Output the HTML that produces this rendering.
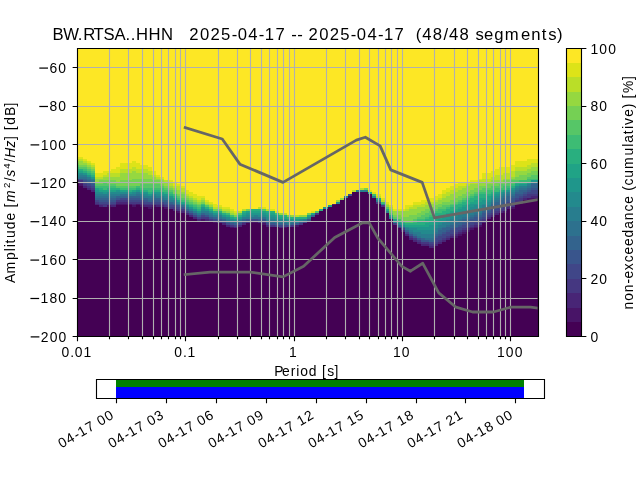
<!DOCTYPE html><html><head><meta charset="utf-8"><style>html,body{margin:0;padding:0;background:#fff;}svg{display:block;will-change:transform}</style></head><body>
<svg width="640" height="480" viewBox="0 0 640 480" font-family='"Liberation Sans", sans-serif'>
<rect width="640" height="480" fill="#fff"/>
<g shape-rendering="crispEdges">
<rect x="76.8" y="48.0" width="460.8" height="288.0" fill="#440154"/>
<path fill="#481467" d="M76.80 48.0V182.40H78.84V186.24H82.92V188.16H86.99V190.08H91.07V192.00H95.15V205.44H99.22V207.36H103.30V207.36H107.38V207.36H111.46V207.36H115.53V205.44H119.61V205.44H123.69V205.44H127.76V205.44H131.84V207.36H135.92V205.44H140.00V207.36H144.07V207.36H148.15V209.28H152.23V207.36H156.30V207.36H160.38V207.36H164.46V209.28H168.53V209.28H172.61V211.20H176.69V213.12H180.77V213.12H184.84V215.04H188.92V216.96H193.00V218.88H197.07V220.80H201.15V220.80H205.23V220.80H209.31V220.80H213.38V222.72H217.46V222.72H221.54V224.64H225.61V226.56H229.69V228.48H233.77V228.48H237.85V226.56H241.92V224.64H246.00V222.72H250.08V222.72H254.15V222.72H258.23V222.72H262.31V224.64H266.39V226.56H270.46V226.56H274.54V226.56H278.62V228.48H282.69V228.48H286.77V226.56H290.85V226.56H294.93V226.56H299.00V224.64H303.08V222.72H307.16V220.80H311.23V216.96H315.31V215.04H319.39V211.20H323.46V209.28H327.54V207.36H331.62V205.44H335.70V203.52H339.77V199.68H343.85V197.76H347.93V195.84H352.00V192.00H356.08V192.00H360.16V192.00H364.24V192.00H368.31V193.92H372.39V197.76H376.47V203.52H380.54V207.36H384.62V213.12H388.70V218.88H392.78V224.64H396.85V228.48H400.93V232.32H405.01V236.16H409.08V240.00H413.16V241.92H417.24V243.84H421.32V245.76H425.39V245.76H429.47V247.68H433.55V245.76H437.62V243.84H441.70V241.92H445.78V240.00H449.86V238.08H453.93V238.08H458.01V236.16H462.09V234.24H466.16V232.32H470.24V230.40H474.32V228.48H478.39V226.56H482.47V222.72H486.55V218.88H490.63V216.96H494.70V215.04H498.78V213.12H502.86V213.12H506.93V209.28H511.01V209.28H515.09V203.52H519.17V203.52H523.24V199.68H527.32V199.68H531.40V199.68H535.47V199.68H537.60V48.0Z"/>
<path fill="#482576" d="M76.80 48.0V182.40H78.84V184.32H82.92V188.16H86.99V190.08H91.07V192.00H95.15V205.44H99.22V207.36H103.30V207.36H107.38V205.44H111.46V207.36H115.53V203.52H119.61V203.52H123.69V203.52H127.76V203.52H131.84V205.44H135.92V203.52H140.00V205.44H144.07V207.36H148.15V207.36H152.23V205.44H156.30V207.36H160.38V207.36H164.46V207.36H168.53V209.28H172.61V211.20H176.69V211.20H180.77V213.12H184.84V215.04H188.92V216.96H193.00V218.88H197.07V220.80H201.15V218.88H205.23V220.80H209.31V220.80H213.38V220.80H217.46V222.72H221.54V224.64H225.61V226.56H229.69V226.56H233.77V228.48H237.85V226.56H241.92V224.64H246.00V222.72H250.08V220.80H254.15V220.80H258.23V222.72H262.31V222.72H266.39V226.56H270.46V226.56H274.54V226.56H278.62V228.48H282.69V226.56H286.77V226.56H290.85V226.56H294.93V224.64H299.00V224.64H303.08V222.72H307.16V220.80H311.23V216.96H315.31V215.04H319.39V211.20H323.46V209.28H327.54V207.36H331.62V205.44H335.70V203.52H339.77V199.68H343.85V197.76H347.93V195.84H352.00V192.00H356.08V192.00H360.16V192.00H364.24V192.00H368.31V193.92H372.39V197.76H376.47V203.52H380.54V207.36H384.62V213.12H388.70V218.88H392.78V224.64H396.85V228.48H400.93V232.32H405.01V236.16H409.08V240.00H413.16V241.92H417.24V243.84H421.32V245.76H425.39V245.76H429.47V247.68H433.55V245.76H437.62V243.84H441.70V241.92H445.78V240.00H449.86V238.08H453.93V236.16H458.01V234.24H462.09V232.32H466.16V230.40H470.24V228.48H474.32V226.56H478.39V224.64H482.47V222.72H486.55V218.88H490.63V216.96H494.70V215.04H498.78V213.12H502.86V211.20H506.93V209.28H511.01V207.36H515.09V203.52H519.17V201.60H523.24V199.68H527.32V197.76H531.40V197.76H535.47V197.76H537.60V48.0Z"/>
<path fill="#453781" d="M76.80 48.0V180.48H78.84V182.40H82.92V186.24H86.99V188.16H91.07V190.08H95.15V203.52H99.22V205.44H103.30V207.36H107.38V205.44H111.46V205.44H115.53V201.60H119.61V201.60H123.69V201.60H127.76V203.52H131.84V203.52H135.92V203.52H140.00V203.52H144.07V205.44H148.15V205.44H152.23V205.44H156.30V205.44H160.38V205.44H164.46V207.36H168.53V209.28H172.61V209.28H176.69V211.20H180.77V211.20H184.84V213.12H188.92V215.04H193.00V216.96H197.07V218.88H201.15V218.88H205.23V218.88H209.31V220.80H213.38V220.80H217.46V222.72H221.54V222.72H225.61V224.64H229.69V226.56H233.77V226.56H237.85V224.64H241.92V222.72H246.00V222.72H250.08V220.80H254.15V220.80H258.23V222.72H262.31V222.72H266.39V224.64H270.46V226.56H274.54V226.56H278.62V226.56H282.69V226.56H286.77V226.56H290.85V226.56H294.93V224.64H299.00V224.64H303.08V222.72H307.16V220.80H311.23V216.96H315.31V215.04H319.39V211.20H323.46V209.28H327.54V207.36H331.62V203.52H335.70V203.52H339.77V199.68H343.85V197.76H347.93V195.84H352.00V192.00H356.08V192.00H360.16V192.00H364.24V192.00H368.31V193.92H372.39V197.76H376.47V203.52H380.54V207.36H384.62V213.12H388.70V218.88H392.78V224.64H396.85V228.48H400.93V230.40H405.01V234.24H409.08V238.08H413.16V240.00H417.24V241.92H421.32V243.84H425.39V243.84H429.47V245.76H433.55V243.84H437.62V241.92H441.70V240.00H445.78V238.08H449.86V236.16H453.93V234.24H458.01V232.32H462.09V230.40H466.16V228.48H470.24V226.56H474.32V224.64H478.39V224.64H482.47V220.80H486.55V216.96H490.63V215.04H494.70V213.12H498.78V211.20H502.86V211.20H506.93V207.36H511.01V207.36H515.09V201.60H519.17V201.60H523.24V197.76H527.32V197.76H531.40V195.84H535.47V195.84H537.60V48.0Z"/>
<path fill="#404688" d="M76.80 48.0V180.48H78.84V180.48H82.92V184.32H86.99V186.24H91.07V188.16H95.15V201.60H99.22V203.52H103.30V203.52H107.38V203.52H111.46V203.52H115.53V199.68H119.61V199.68H123.69V199.68H127.76V201.60H131.84V201.60H135.92V201.60H140.00V201.60H144.07V203.52H148.15V203.52H152.23V203.52H156.30V203.52H160.38V203.52H164.46V205.44H168.53V207.36H172.61V207.36H176.69V209.28H180.77V209.28H184.84V213.12H188.92V215.04H193.00V216.96H197.07V218.88H201.15V216.96H205.23V216.96H209.31V218.88H213.38V220.80H217.46V220.80H221.54V222.72H225.61V224.64H229.69V224.64H233.77V226.56H237.85V224.64H241.92V222.72H246.00V220.80H250.08V220.80H254.15V220.80H258.23V220.80H262.31V220.80H266.39V224.64H270.46V224.64H274.54V226.56H278.62V226.56H282.69V226.56H286.77V226.56H290.85V224.64H294.93V224.64H299.00V222.72H303.08V222.72H307.16V220.80H311.23V216.96H315.31V213.12H319.39V211.20H323.46V209.28H327.54V207.36H331.62V203.52H335.70V203.52H339.77V199.68H343.85V197.76H347.93V195.84H352.00V192.00H356.08V192.00H360.16V192.00H364.24V192.00H368.31V193.92H372.39V197.76H376.47V201.60H380.54V205.44H384.62V213.12H388.70V218.88H392.78V222.72H396.85V226.56H400.93V230.40H405.01V234.24H409.08V236.16H413.16V238.08H417.24V240.00H421.32V241.92H425.39V241.92H429.47V243.84H433.55V241.92H437.62V240.00H441.70V238.08H445.78V236.16H449.86V234.24H453.93V232.32H458.01V230.40H462.09V228.48H466.16V226.56H470.24V224.64H474.32V222.72H478.39V220.80H482.47V218.88H486.55V215.04H490.63V213.12H494.70V211.20H498.78V209.28H502.86V207.36H506.93V205.44H511.01V203.52H515.09V199.68H519.17V197.76H523.24V195.84H527.32V193.92H531.40V193.92H535.47V193.92H537.60V48.0Z"/>
<path fill="#39558c" d="M76.80 48.0V178.56H78.84V180.48H82.92V182.40H86.99V184.32H91.07V186.24H95.15V199.68H99.22V201.60H103.30V201.60H107.38V201.60H111.46V201.60H115.53V199.68H119.61V197.76H123.69V197.76H127.76V199.68H131.84V199.68H135.92V199.68H140.00V199.68H144.07V201.60H148.15V201.60H152.23V201.60H156.30V201.60H160.38V201.60H164.46V203.52H168.53V205.44H172.61V205.44H176.69V207.36H180.77V209.28H184.84V211.20H188.92V213.12H193.00V215.04H197.07V216.96H201.15V215.04H205.23V216.96H209.31V218.88H213.38V218.88H217.46V220.80H221.54V220.80H225.61V222.72H229.69V224.64H233.77V224.64H237.85V222.72H241.92V220.80H246.00V220.80H250.08V218.88H254.15V218.88H258.23V220.80H262.31V220.80H266.39V222.72H270.46V224.64H274.54V224.64H278.62V224.64H282.69V224.64H286.77V224.64H290.85V224.64H294.93V224.64H299.00V222.72H303.08V220.80H307.16V220.80H311.23V216.96H315.31V213.12H319.39V211.20H323.46V209.28H327.54V207.36H331.62V203.52H335.70V203.52H339.77V199.68H343.85V197.76H347.93V195.84H352.00V192.00H356.08V192.00H360.16V192.00H364.24V192.00H368.31V193.92H372.39V197.76H376.47V201.60H380.54V205.44H384.62V213.12H388.70V218.88H392.78V222.72H396.85V226.56H400.93V228.48H405.01V232.32H409.08V236.16H413.16V238.08H417.24V240.00H421.32V241.92H425.39V241.92H429.47V241.92H433.55V238.08H437.62V236.16H441.70V234.24H445.78V232.32H449.86V230.40H453.93V228.48H458.01V226.56H462.09V224.64H466.16V222.72H470.24V220.80H474.32V220.80H478.39V218.88H482.47V216.96H486.55V213.12H490.63V209.28H494.70V207.36H498.78V205.44H502.86V203.52H506.93V201.60H511.01V201.60H515.09V197.76H519.17V195.84H523.24V193.92H527.32V192.00H531.40V190.08H535.47V190.08H537.60V48.0Z"/>
<path fill="#33638d" d="M76.80 48.0V178.56H78.84V178.56H82.92V180.48H86.99V182.40H91.07V184.32H95.15V199.68H99.22V199.68H103.30V199.68H107.38V199.68H111.46V199.68H115.53V197.76H119.61V197.76H123.69V197.76H127.76V197.76H131.84V197.76H135.92V197.76H140.00V199.68H144.07V199.68H148.15V201.60H152.23V199.68H156.30V199.68H160.38V201.60H164.46V201.60H168.53V203.52H172.61V205.44H176.69V205.44H180.77V207.36H184.84V211.20H188.92V213.12H193.00V215.04H197.07V216.96H201.15V215.04H205.23V215.04H209.31V216.96H213.38V218.88H217.46V218.88H221.54V220.80H225.61V222.72H229.69V222.72H233.77V224.64H237.85V222.72H241.92V220.80H246.00V218.88H250.08V218.88H254.15V218.88H258.23V218.88H262.31V218.88H266.39V222.72H270.46V222.72H274.54V224.64H278.62V224.64H282.69V224.64H286.77V224.64H290.85V224.64H294.93V222.72H299.00V222.72H303.08V220.80H307.16V218.88H311.23V216.96H315.31V213.12H319.39V211.20H323.46V209.28H327.54V207.36H331.62V203.52H335.70V203.52H339.77V199.68H343.85V197.76H347.93V193.92H352.00V192.00H356.08V192.00H360.16V192.00H364.24V192.00H368.31V193.92H372.39V197.76H376.47V201.60H380.54V205.44H384.62V213.12H388.70V218.88H392.78V222.72H396.85V226.56H400.93V228.48H405.01V232.32H409.08V234.24H413.16V236.16H417.24V238.08H421.32V240.00H425.39V240.00H429.47V241.92H433.55V236.16H437.62V234.24H441.70V232.32H445.78V230.40H449.86V228.48H453.93V226.56H458.01V224.64H462.09V222.72H466.16V220.80H470.24V218.88H474.32V216.96H478.39V216.96H482.47V213.12H486.55V211.20H490.63V207.36H494.70V205.44H498.78V203.52H502.86V201.60H506.93V199.68H511.01V197.76H515.09V193.92H519.17V193.92H523.24V192.00H527.32V190.08H531.40V188.16H535.47V188.16H537.60V48.0Z"/>
<path fill="#2d718e" d="M76.80 48.0V178.56H78.84V178.56H82.92V178.56H86.99V180.48H91.07V182.40H95.15V197.76H99.22V197.76H103.30V197.76H107.38V197.76H111.46V197.76H115.53V195.84H119.61V195.84H123.69V195.84H127.76V195.84H131.84V195.84H135.92V195.84H140.00V197.76H144.07V197.76H148.15V199.68H152.23V197.76H156.30V197.76H160.38V199.68H164.46V199.68H168.53V201.60H172.61V203.52H176.69V205.44H180.77V207.36H184.84V209.28H188.92V211.20H193.00V213.12H197.07V215.04H201.15V213.12H205.23V215.04H209.31V216.96H213.38V216.96H217.46V218.88H221.54V218.88H225.61V220.80H229.69V222.72H233.77V222.72H237.85V220.80H241.92V218.88H246.00V218.88H250.08V218.88H254.15V218.88H258.23V218.88H262.31V218.88H266.39V220.80H270.46V222.72H274.54V222.72H278.62V222.72H282.69V222.72H286.77V224.64H290.85V222.72H294.93V222.72H299.00V220.80H303.08V220.80H307.16V218.88H311.23V215.04H315.31V213.12H319.39V211.20H323.46V209.28H327.54V207.36H331.62V203.52H335.70V203.52H339.77V199.68H343.85V197.76H347.93V193.92H352.00V192.00H356.08V192.00H360.16V192.00H364.24V192.00H368.31V193.92H372.39V197.76H376.47V201.60H380.54V205.44H384.62V213.12H388.70V218.88H392.78V222.72H396.85V224.64H400.93V226.56H405.01V230.40H409.08V234.24H413.16V236.16H417.24V238.08H421.32V238.08H425.39V240.00H429.47V240.00H433.55V234.24H437.62V230.40H441.70V228.48H445.78V226.56H449.86V224.64H453.93V222.72H458.01V220.80H462.09V218.88H466.16V218.88H470.24V216.96H474.32V215.04H478.39V215.04H482.47V211.20H486.55V209.28H490.63V203.52H494.70V201.60H498.78V199.68H502.86V197.76H506.93V195.84H511.01V195.84H515.09V192.00H519.17V190.08H523.24V190.08H527.32V188.16H531.40V184.32H535.47V184.32H537.60V48.0Z"/>
<path fill="#287d8e" d="M76.80 48.0V178.56H78.84V176.64H82.92V176.64H86.99V178.56H91.07V180.48H95.15V195.84H99.22V195.84H103.30V195.84H107.38V195.84H111.46V195.84H115.53V195.84H119.61V193.92H123.69V193.92H127.76V195.84H131.84V195.84H135.92V193.92H140.00V195.84H144.07V197.76H148.15V197.76H152.23V195.84H156.30V197.76H160.38V197.76H164.46V199.68H168.53V201.60H172.61V201.60H176.69V203.52H180.77V205.44H184.84V209.28H188.92V211.20H193.00V213.12H197.07V215.04H201.15V213.12H205.23V213.12H209.31V215.04H213.38V216.96H217.46V216.96H221.54V218.88H225.61V220.80H229.69V220.80H233.77V222.72H237.85V220.80H241.92V218.88H246.00V218.88H250.08V216.96H254.15V216.96H258.23V216.96H262.31V216.96H266.39V220.80H270.46V220.80H274.54V222.72H278.62V222.72H282.69V222.72H286.77V222.72H290.85V222.72H294.93V222.72H299.00V220.80H303.08V220.80H307.16V218.88H311.23V215.04H315.31V213.12H319.39V211.20H323.46V209.28H327.54V207.36H331.62V203.52H335.70V203.52H339.77V199.68H343.85V197.76H347.93V193.92H352.00V192.00H356.08V192.00H360.16V192.00H364.24V192.00H368.31V193.92H372.39V197.76H376.47V201.60H380.54V205.44H384.62V213.12H388.70V218.88H392.78V222.72H396.85V224.64H400.93V226.56H405.01V230.40H409.08V232.32H413.16V234.24H417.24V236.16H421.32V238.08H425.39V238.08H429.47V238.08H433.55V232.32H437.62V228.48H441.70V226.56H445.78V224.64H449.86V222.72H453.93V220.80H458.01V218.88H462.09V216.96H466.16V216.96H470.24V215.04H474.32V213.12H478.39V213.12H482.47V209.28H486.55V207.36H490.63V201.60H494.70V199.68H498.78V197.76H502.86V195.84H506.93V193.92H511.01V193.92H515.09V190.08H519.17V188.16H523.24V188.16H527.32V186.24H531.40V182.40H535.47V182.40H537.60V48.0Z"/>
<path fill="#238a8d" d="M76.80 48.0V176.64H78.84V174.72H82.92V174.72H86.99V176.64H91.07V178.56H95.15V193.92H99.22V193.92H103.30V193.92H107.38V193.92H111.46V193.92H115.53V193.92H119.61V193.92H123.69V193.92H127.76V193.92H131.84V193.92H135.92V192.00H140.00V193.92H144.07V195.84H148.15V195.84H152.23V193.92H156.30V195.84H160.38V195.84H164.46V197.76H168.53V199.68H172.61V199.68H176.69V203.52H180.77V205.44H184.84V207.36H188.92V209.28H193.00V211.20H197.07V213.12H201.15V211.20H205.23V211.20H209.31V213.12H213.38V215.04H217.46V215.04H221.54V216.96H225.61V218.88H229.69V220.80H233.77V220.80H237.85V218.88H241.92V216.96H246.00V216.96H250.08V216.96H254.15V215.04H258.23V216.96H262.31V216.96H266.39V218.88H270.46V218.88H274.54V220.80H278.62V220.80H282.69V220.80H286.77V222.72H290.85V220.80H294.93V220.80H299.00V220.80H303.08V218.88H307.16V218.88H311.23V215.04H315.31V213.12H319.39V211.20H323.46V209.28H327.54V207.36H331.62V203.52H335.70V203.52H339.77V199.68H343.85V195.84H347.93V193.92H352.00V192.00H356.08V190.08H360.16V190.08H364.24V190.08H368.31V193.92H372.39V195.84H376.47V199.68H380.54V205.44H384.62V211.20H388.70V216.96H392.78V222.72H396.85V224.64H400.93V226.56H405.01V228.48H409.08V230.40H413.16V232.32H417.24V232.32H421.32V234.24H425.39V234.24H429.47V234.24H433.55V228.48H437.62V224.64H441.70V222.72H445.78V220.80H449.86V218.88H453.93V216.96H458.01V215.04H462.09V213.12H466.16V213.12H470.24V211.20H474.32V209.28H478.39V209.28H482.47V205.44H486.55V205.44H490.63V199.68H494.70V197.76H498.78V195.84H502.86V193.92H506.93V192.00H511.01V192.00H515.09V188.16H519.17V186.24H523.24V186.24H527.32V184.32H531.40V182.40H535.47V182.40H537.60V48.0Z"/>
<path fill="#1f968b" d="M76.80 48.0V174.72H78.84V172.80H82.92V174.72H86.99V176.64H91.07V178.56H95.15V192.00H99.22V192.00H103.30V193.92H107.38V192.00H111.46V192.00H115.53V192.00H119.61V192.00H123.69V192.00H127.76V193.92H131.84V192.00H135.92V192.00H140.00V193.92H144.07V193.92H148.15V195.84H152.23V193.92H156.30V193.92H160.38V195.84H164.46V195.84H168.53V197.76H172.61V199.68H176.69V201.60H180.77V203.52H184.84V207.36H188.92V209.28H193.00V211.20H197.07V213.12H201.15V209.28H205.23V211.20H209.31V213.12H213.38V215.04H217.46V215.04H221.54V216.96H225.61V216.96H229.69V218.88H233.77V220.80H237.85V218.88H241.92V216.96H246.00V215.04H250.08V215.04H254.15V215.04H258.23V215.04H262.31V215.04H266.39V216.96H270.46V216.96H274.54V218.88H278.62V218.88H282.69V218.88H286.77V220.80H290.85V220.80H294.93V220.80H299.00V218.88H303.08V218.88H307.16V216.96H311.23V215.04H315.31V213.12H319.39V211.20H323.46V209.28H327.54V207.36H331.62V203.52H335.70V201.60H339.77V199.68H343.85V195.84H347.93V193.92H352.00V192.00H356.08V190.08H360.16V190.08H364.24V190.08H368.31V193.92H372.39V195.84H376.47V199.68H380.54V203.52H384.62V211.20H388.70V216.96H392.78V220.80H396.85V222.72H400.93V224.64H405.01V226.56H409.08V228.48H413.16V228.48H417.24V230.40H421.32V230.40H425.39V230.40H429.47V230.40H433.55V224.64H437.62V222.72H441.70V220.80H445.78V218.88H449.86V216.96H453.93V215.04H458.01V213.12H462.09V211.20H466.16V209.28H470.24V207.36H474.32V205.44H478.39V205.44H482.47V203.52H486.55V201.60H490.63V197.76H494.70V195.84H498.78V193.92H502.86V192.00H506.93V192.00H511.01V190.08H515.09V186.24H519.17V186.24H523.24V186.24H527.32V184.32H531.40V182.40H535.47V182.40H537.60V48.0Z"/>
<path fill="#20a386" d="M76.80 48.0V172.80H78.84V172.80H82.92V172.80H86.99V174.72H91.07V176.64H95.15V190.08H99.22V192.00H103.30V192.00H107.38V192.00H111.46V192.00H115.53V190.08H119.61V192.00H123.69V192.00H127.76V192.00H131.84V192.00H135.92V190.08H140.00V192.00H144.07V192.00H148.15V193.92H152.23V192.00H156.30V192.00H160.38V193.92H164.46V193.92H168.53V195.84H172.61V197.76H176.69V201.60H180.77V203.52H184.84V205.44H188.92V207.36H193.00V209.28H197.07V211.20H201.15V207.36H205.23V209.28H209.31V211.20H213.38V213.12H217.46V213.12H221.54V215.04H225.61V216.96H229.69V218.88H233.77V218.88H237.85V216.96H241.92V215.04H246.00V213.12H250.08V213.12H254.15V213.12H258.23V213.12H262.31V213.12H266.39V215.04H270.46V215.04H274.54V216.96H278.62V218.88H282.69V218.88H286.77V218.88H290.85V218.88H294.93V218.88H299.00V218.88H303.08V218.88H307.16V216.96H311.23V215.04H315.31V213.12H319.39V211.20H323.46V207.36H327.54V207.36H331.62V203.52H335.70V201.60H339.77V199.68H343.85V195.84H347.93V193.92H352.00V192.00H356.08V190.08H360.16V190.08H364.24V190.08H368.31V193.92H372.39V195.84H376.47V199.68H380.54V203.52H384.62V211.20H388.70V216.96H392.78V220.80H396.85V222.72H400.93V224.64H405.01V226.56H409.08V226.56H413.16V226.56H417.24V226.56H421.32V226.56H425.39V226.56H429.47V224.64H433.55V220.80H437.62V218.88H441.70V216.96H445.78V215.04H449.86V213.12H453.93V211.20H458.01V209.28H462.09V207.36H466.16V205.44H470.24V203.52H474.32V203.52H478.39V201.60H482.47V199.68H486.55V199.68H490.63V195.84H494.70V193.92H498.78V192.00H502.86V192.00H506.93V190.08H511.01V188.16H515.09V186.24H519.17V184.32H523.24V184.32H527.32V182.40H531.40V180.48H535.47V180.48H537.60V48.0Z"/>
<path fill="#29af7f" d="M76.80 48.0V170.88H78.84V170.88H82.92V172.80H86.99V174.72H91.07V176.64H95.15V188.16H99.22V190.08H103.30V190.08H107.38V190.08H111.46V190.08H115.53V190.08H119.61V190.08H123.69V190.08H127.76V192.00H131.84V190.08H135.92V190.08H140.00V192.00H144.07V192.00H148.15V193.92H152.23V192.00H156.30V192.00H160.38V192.00H164.46V193.92H168.53V195.84H172.61V197.76H176.69V199.68H180.77V201.60H184.84V205.44H188.92V207.36H193.00V209.28H197.07V211.20H201.15V207.36H205.23V209.28H209.31V211.20H213.38V213.12H217.46V213.12H221.54V215.04H225.61V215.04H229.69V216.96H233.77V218.88H237.85V216.96H241.92V213.12H246.00V211.20H250.08V211.20H254.15V211.20H258.23V211.20H262.31V211.20H266.39V213.12H270.46V213.12H274.54V215.04H278.62V216.96H282.69V216.96H286.77V218.88H290.85V218.88H294.93V218.88H299.00V218.88H303.08V218.88H307.16V215.04H311.23V213.12H315.31V213.12H319.39V211.20H323.46V207.36H327.54V205.44H331.62V203.52H335.70V201.60H339.77V199.68H343.85V195.84H347.93V193.92H352.00V192.00H356.08V190.08H360.16V190.08H364.24V190.08H368.31V192.00H372.39V195.84H376.47V197.76H380.54V203.52H384.62V209.28H388.70V215.04H392.78V218.88H396.85V220.80H400.93V222.72H405.01V224.64H409.08V224.64H413.16V224.64H417.24V224.64H421.32V224.64H425.39V222.72H429.47V220.80H433.55V216.96H437.62V215.04H441.70V215.04H445.78V213.12H449.86V211.20H453.93V209.28H458.01V207.36H462.09V205.44H466.16V203.52H470.24V201.60H474.32V199.68H478.39V197.76H482.47V197.76H486.55V195.84H490.63V193.92H494.70V192.00H498.78V192.00H502.86V190.08H506.93V190.08H511.01V188.16H515.09V184.32H519.17V184.32H523.24V184.32H527.32V182.40H531.40V180.48H535.47V180.48H537.60V48.0Z"/>
<path fill="#3dbc74" d="M76.80 48.0V168.96H78.84V168.96H82.92V170.88H86.99V172.80H91.07V174.72H95.15V188.16H99.22V188.16H103.30V190.08H107.38V188.16H111.46V188.16H115.53V188.16H119.61V190.08H123.69V190.08H127.76V190.08H131.84V190.08H135.92V188.16H140.00V190.08H144.07V190.08H148.15V192.00H152.23V190.08H156.30V190.08H160.38V192.00H164.46V192.00H168.53V193.92H172.61V195.84H176.69V199.68H180.77V201.60H184.84V203.52H188.92V205.44H193.00V207.36H197.07V209.28H201.15V205.44H205.23V207.36H209.31V209.28H213.38V211.20H217.46V211.20H221.54V213.12H225.61V215.04H229.69V216.96H233.77V216.96H237.85V215.04H241.92V211.20H246.00V211.20H250.08V209.28H254.15V209.28H258.23V209.28H262.31V211.20H266.39V211.20H270.46V211.20H274.54V215.04H278.62V215.04H282.69V215.04H286.77V216.96H290.85V216.96H294.93V216.96H299.00V216.96H303.08V216.96H307.16V215.04H311.23V213.12H315.31V213.12H319.39V209.28H323.46V207.36H327.54V205.44H331.62V203.52H335.70V201.60H339.77V199.68H343.85V195.84H347.93V193.92H352.00V192.00H356.08V190.08H360.16V190.08H364.24V190.08H368.31V192.00H372.39V195.84H376.47V197.76H380.54V203.52H384.62V209.28H388.70V215.04H392.78V218.88H396.85V220.80H400.93V222.72H405.01V222.72H409.08V222.72H413.16V222.72H417.24V220.80H421.32V220.80H425.39V218.88H429.47V216.96H433.55V213.12H437.62V213.12H441.70V211.20H445.78V209.28H449.86V207.36H453.93V205.44H458.01V203.52H462.09V201.60H466.16V199.68H470.24V197.76H474.32V195.84H478.39V193.92H482.47V193.92H486.55V193.92H490.63V192.00H494.70V192.00H498.78V190.08H502.86V190.08H506.93V188.16H511.01V186.24H515.09V182.40H519.17V182.40H523.24V182.40H527.32V182.40H531.40V180.48H535.47V180.48H537.60V48.0Z"/>
<path fill="#56c667" d="M76.80 48.0V167.04H78.84V168.96H82.92V168.96H86.99V170.88H91.07V172.80H95.15V186.24H99.22V186.24H103.30V186.24H107.38V186.24H111.46V186.24H115.53V188.16H119.61V188.16H123.69V188.16H127.76V188.16H131.84V188.16H135.92V186.24H140.00V188.16H144.07V188.16H148.15V188.16H152.23V188.16H156.30V188.16H160.38V188.16H164.46V190.08H168.53V192.00H172.61V193.92H176.69V197.76H180.77V199.68H184.84V201.60H188.92V203.52H193.00V205.44H197.07V207.36H201.15V203.52H205.23V207.36H209.31V209.28H213.38V211.20H217.46V211.20H221.54V213.12H225.61V213.12H229.69V215.04H233.77V216.96H237.85V215.04H241.92V211.20H246.00V211.20H250.08V209.28H254.15V209.28H258.23V209.28H262.31V211.20H266.39V211.20H270.46V211.20H274.54V213.12H278.62V215.04H282.69V215.04H286.77V216.96H290.85V216.96H294.93V216.96H299.00V216.96H303.08V216.96H307.16V215.04H311.23V213.12H315.31V213.12H319.39V209.28H323.46V207.36H327.54V205.44H331.62V203.52H335.70V201.60H339.77V199.68H343.85V195.84H347.93V193.92H352.00V192.00H356.08V190.08H360.16V190.08H364.24V190.08H368.31V192.00H372.39V193.92H376.47V197.76H380.54V201.60H384.62V209.28H388.70V215.04H392.78V218.88H396.85V218.88H400.93V220.80H405.01V222.72H409.08V222.72H413.16V220.80H417.24V218.88H421.32V218.88H425.39V216.96H429.47V215.04H433.55V211.20H437.62V209.28H441.70V209.28H445.78V207.36H449.86V205.44H453.93V203.52H458.01V201.60H462.09V199.68H466.16V197.76H470.24V195.84H474.32V193.92H478.39V192.00H482.47V192.00H486.55V190.08H490.63V190.08H494.70V188.16H498.78V188.16H502.86V186.24H506.93V186.24H511.01V184.32H515.09V182.40H519.17V180.48H523.24V180.48H527.32V178.56H531.40V178.56H535.47V178.56H537.60V48.0Z"/>
<path fill="#75d054" d="M76.80 48.0V165.12H78.84V167.04H82.92V167.04H86.99V168.96H91.07V170.88H95.15V184.32H99.22V184.32H103.30V182.40H107.38V184.32H111.46V184.32H115.53V186.24H119.61V186.24H123.69V186.24H127.76V186.24H131.84V186.24H135.92V186.24H140.00V184.32H144.07V184.32H148.15V184.32H152.23V184.32H156.30V184.32H160.38V186.24H164.46V188.16H168.53V190.08H172.61V193.92H176.69V195.84H180.77V197.76H184.84V199.68H188.92V201.60H193.00V203.52H197.07V205.44H201.15V203.52H205.23V205.44H209.31V207.36H213.38V211.20H217.46V211.20H221.54V213.12H225.61V213.12H229.69V215.04H233.77V216.96H237.85V213.12H241.92V211.20H246.00V211.20H250.08V209.28H254.15V209.28H258.23V209.28H262.31V209.28H266.39V211.20H270.46V211.20H274.54V213.12H278.62V215.04H282.69V215.04H286.77V216.96H290.85V216.96H294.93V216.96H299.00V216.96H303.08V216.96H307.16V215.04H311.23V213.12H315.31V211.20H319.39V209.28H323.46V207.36H327.54V205.44H331.62V203.52H335.70V201.60H339.77V199.68H343.85V195.84H347.93V193.92H352.00V192.00H356.08V190.08H360.16V190.08H364.24V190.08H368.31V192.00H372.39V193.92H376.47V197.76H380.54V201.60H384.62V207.36H388.70V213.12H392.78V216.96H396.85V218.88H400.93V220.80H405.01V220.80H409.08V220.80H413.16V218.88H417.24V216.96H421.32V215.04H425.39V213.12H429.47V211.20H433.55V209.28H437.62V207.36H441.70V205.44H445.78V205.44H449.86V203.52H453.93V201.60H458.01V199.68H462.09V197.76H466.16V195.84H470.24V193.92H474.32V192.00H478.39V190.08H482.47V188.16H486.55V188.16H490.63V186.24H494.70V186.24H498.78V184.32H502.86V184.32H506.93V182.40H511.01V180.48H515.09V180.48H519.17V180.48H523.24V180.48H527.32V176.64H531.40V174.72H535.47V174.72H537.60V48.0Z"/>
<path fill="#95d840" d="M76.80 48.0V163.20H78.84V165.12H82.92V165.12H86.99V167.04H91.07V168.96H95.15V182.40H99.22V180.48H103.30V180.48H107.38V180.48H111.46V180.48H115.53V182.40H119.61V180.48H123.69V180.48H127.76V180.48H131.84V178.56H135.92V178.56H140.00V178.56H144.07V178.56H148.15V178.56H152.23V180.48H156.30V180.48H160.38V184.32H164.46V186.24H168.53V188.16H172.61V190.08H176.69V193.92H180.77V193.92H184.84V197.76H188.92V199.68H193.00V201.60H197.07V203.52H201.15V201.60H205.23V205.44H209.31V207.36H213.38V209.28H217.46V209.28H221.54V211.20H225.61V213.12H229.69V215.04H233.77V215.04H237.85V213.12H241.92V211.20H246.00V209.28H250.08V209.28H254.15V209.28H258.23V209.28H262.31V209.28H266.39V211.20H270.46V211.20H274.54V213.12H278.62V215.04H282.69V215.04H286.77V215.04H290.85V216.96H294.93V216.96H299.00V216.96H303.08V216.96H307.16V213.12H311.23V213.12H315.31V211.20H319.39V209.28H323.46V207.36H327.54V205.44H331.62V203.52H335.70V201.60H339.77V199.68H343.85V195.84H347.93V193.92H352.00V192.00H356.08V190.08H360.16V190.08H364.24V188.16H368.31V192.00H372.39V193.92H376.47V197.76H380.54V201.60H384.62V207.36H388.70V211.20H392.78V215.04H396.85V215.04H400.93V216.96H405.01V216.96H409.08V215.04H413.16V215.04H417.24V213.12H421.32V211.20H425.39V209.28H429.47V207.36H433.55V205.44H437.62V203.52H441.70V201.60H445.78V201.60H449.86V199.68H453.93V197.76H458.01V195.84H462.09V193.92H466.16V192.00H470.24V190.08H474.32V188.16H478.39V186.24H482.47V186.24H486.55V184.32H490.63V184.32H494.70V182.40H498.78V182.40H502.86V180.48H506.93V180.48H511.01V178.56H515.09V176.64H519.17V174.72H523.24V174.72H527.32V172.80H531.40V170.88H535.47V170.88H537.60V48.0Z"/>
<path fill="#bade28" d="M76.80 48.0V161.28H78.84V161.28H82.92V163.20H86.99V165.12H91.07V167.04H95.15V178.56H99.22V178.56H103.30V176.64H107.38V176.64H111.46V176.64H115.53V176.64H119.61V172.80H123.69V172.80H127.76V172.80H131.84V170.88H135.92V172.80H140.00V172.80H144.07V172.80H148.15V174.72H152.23V176.64H156.30V178.56H160.38V180.48H164.46V182.40H168.53V186.24H172.61V188.16H176.69V190.08H180.77V192.00H184.84V195.84H188.92V197.76H193.00V199.68H197.07V201.60H201.15V199.68H205.23V203.52H209.31V205.44H213.38V209.28H217.46V209.28H221.54V211.20H225.61V211.20H229.69V213.12H233.77V215.04H237.85V213.12H241.92V211.20H246.00V209.28H250.08V209.28H254.15V209.28H258.23V209.28H262.31V209.28H266.39V211.20H270.46V211.20H274.54V213.12H278.62V213.12H282.69V215.04H286.77V215.04H290.85V215.04H294.93V216.96H299.00V215.04H303.08V215.04H307.16V213.12H311.23V213.12H315.31V211.20H319.39V209.28H323.46V207.36H327.54V205.44H331.62V203.52H335.70V199.68H339.77V197.76H343.85V195.84H347.93V193.92H352.00V192.00H356.08V190.08H360.16V190.08H364.24V188.16H368.31V192.00H372.39V193.92H376.47V197.76H380.54V201.60H384.62V205.44H388.70V209.28H392.78V211.20H396.85V211.20H400.93V211.20H405.01V211.20H409.08V209.28H413.16V209.28H417.24V207.36H421.32V207.36H425.39V205.44H429.47V203.52H433.55V201.60H437.62V199.68H441.70V197.76H445.78V195.84H449.86V193.92H453.93V192.00H458.01V190.08H462.09V188.16H466.16V186.24H470.24V184.32H474.32V184.32H478.39V182.40H482.47V182.40H486.55V182.40H490.63V180.48H494.70V180.48H498.78V180.48H502.86V178.56H506.93V178.56H511.01V176.64H515.09V170.88H519.17V170.88H523.24V170.88H527.32V168.96H531.40V167.04H535.47V167.04H537.60V48.0Z"/>
<path fill="#dde318" d="M76.80 48.0V159.36H78.84V159.36H82.92V161.28H86.99V163.20H91.07V165.12H95.15V176.64H99.22V176.64H103.30V174.72H107.38V172.80H111.46V172.80H115.53V172.80H119.61V168.96H123.69V168.96H127.76V168.96H131.84V167.04H135.92V168.96H140.00V168.96H144.07V168.96H148.15V170.88H152.23V174.72H156.30V176.64H160.38V178.56H164.46V180.48H168.53V182.40H172.61V186.24H176.69V186.24H180.77V188.16H184.84V193.92H188.92V195.84H193.00V197.76H197.07V199.68H201.15V197.76H205.23V201.60H209.31V203.52H213.38V207.36H217.46V207.36H221.54V209.28H225.61V209.28H229.69V211.20H233.77V213.12H237.85V211.20H241.92V209.28H246.00V209.28H250.08V209.28H254.15V209.28H258.23V207.36H262.31V209.28H266.39V209.28H270.46V211.20H274.54V213.12H278.62V213.12H282.69V213.12H286.77V215.04H290.85V215.04H294.93V215.04H299.00V215.04H303.08V215.04H307.16V213.12H311.23V213.12H315.31V211.20H319.39V209.28H323.46V207.36H327.54V205.44H331.62V203.52H335.70V199.68H339.77V197.76H343.85V195.84H347.93V193.92H352.00V190.08H356.08V190.08H360.16V188.16H364.24V188.16H368.31V192.00H372.39V193.92H376.47V195.84H380.54V199.68H384.62V203.52H388.70V207.36H392.78V211.20H396.85V211.20H400.93V211.20H405.01V209.28H409.08V207.36H413.16V205.44H417.24V205.44H421.32V203.52H425.39V201.60H429.47V201.60H433.55V199.68H437.62V197.76H441.70V193.92H445.78V192.00H449.86V190.08H453.93V188.16H458.01V186.24H462.09V186.24H466.16V184.32H470.24V182.40H474.32V182.40H478.39V180.48H482.47V178.56H486.55V178.56H490.63V176.64H494.70V174.72H498.78V174.72H502.86V172.80H506.93V172.80H511.01V170.88H515.09V167.04H519.17V167.04H523.24V167.04H527.32V165.12H531.40V163.20H535.47V163.20H537.60V48.0Z"/>
<path fill="#fde725" d="M76.80 48.0V157.44H78.84V157.44H82.92V159.36H86.99V161.28H91.07V163.20H95.15V172.80H99.22V172.80H103.30V170.88H107.38V170.88H111.46V168.96H115.53V167.04H119.61V163.20H123.69V163.20H127.76V163.20H131.84V161.28H135.92V163.20H140.00V165.12H144.07V165.12H148.15V167.04H152.23V170.88H156.30V174.72H160.38V176.64H164.46V180.48H168.53V180.48H172.61V182.40H176.69V184.32H180.77V186.24H184.84V190.08H188.92V192.00H193.00V193.92H197.07V195.84H201.15V195.84H205.23V199.68H209.31V201.60H213.38V203.52H217.46V205.44H221.54V207.36H225.61V207.36H229.69V209.28H233.77V211.20H237.85V211.20H241.92V209.28H246.00V209.28H250.08V209.28H254.15V209.28H258.23V207.36H262.31V207.36H266.39V209.28H270.46V209.28H274.54V211.20H278.62V213.12H282.69V213.12H286.77V215.04H290.85V215.04H294.93V215.04H299.00V215.04H303.08V215.04H307.16V213.12H311.23V211.20H315.31V211.20H319.39V209.28H323.46V207.36H327.54V205.44H331.62V203.52H335.70V199.68H339.77V197.76H343.85V195.84H347.93V193.92H352.00V190.08H356.08V190.08H360.16V188.16H364.24V188.16H368.31V190.08H372.39V192.00H376.47V193.92H380.54V197.76H384.62V201.60H388.70V205.44H392.78V209.28H396.85V209.28H400.93V209.28H405.01V205.44H409.08V205.44H413.16V201.60H417.24V201.60H421.32V199.68H425.39V199.68H429.47V197.76H433.55V195.84H437.62V193.92H441.70V190.08H445.78V188.16H449.86V186.24H453.93V184.32H458.01V182.40H462.09V182.40H466.16V182.40H470.24V180.48H474.32V180.48H478.39V178.56H482.47V172.80H486.55V172.80H490.63V170.88H494.70V168.96H498.78V167.04H502.86V167.04H506.93V167.04H511.01V165.12H515.09V161.28H519.17V161.28H523.24V161.28H527.32V159.36H531.40V159.36H535.47V159.36H537.60V48.0Z"/>
</g>
<path d="M109.5 48.0V336.0M128.5 48.0V336.0M142.5 48.0V336.0M153.5 48.0V336.0M161.5 48.0V336.0M168.5 48.0V336.0M175.5 48.0V336.0M180.5 48.0V336.0M185.5 48.0V336.0M218.5 48.0V336.0M237.5 48.0V336.0M250.5 48.0V336.0M261.5 48.0V336.0M269.5 48.0V336.0M277.5 48.0V336.0M283.5 48.0V336.0M289.5 48.0V336.0M294.5 48.0V336.0M326.5 48.0V336.0M345.5 48.0V336.0M359.5 48.0V336.0M369.5 48.0V336.0M378.5 48.0V336.0M385.5 48.0V336.0M391.5 48.0V336.0M397.5 48.0V336.0M402.5 48.0V336.0M434.5 48.0V336.0M454.5 48.0V336.0M467.5 48.0V336.0M478.5 48.0V336.0M486.5 48.0V336.0M493.5 48.0V336.0M500.5 48.0V336.0M505.5 48.0V336.0M510.5 48.0V336.0M76.8 67.5H537.6M76.8 106.5H537.6M76.8 144.5H537.6M76.8 182.5H537.6M76.8 221.5H537.6M76.8 259.5H537.6M76.8 298.5H537.6" stroke="#b0b0b0" stroke-width="1.11" fill="none"/>
<path d="M185.15 127.68 L222.25 139.01 L222.25 139.02 L239.88 164.17 L239.88 164.16 L283.00 182.39 L283.00 182.40 L356.32 140.16 L356.32 140.16 L365.31 137.27 L365.31 137.28 L380.11 145.92 L380.11 145.92 L390.76 169.92 L390.76 169.91 L422.17 182.39 L422.17 182.40 L434.47 217.92 L434.47 217.91 L537.60 199.62" stroke="#666666" stroke-width="2.78" fill="none" stroke-linejoin="round" stroke-linecap="square" clip-path="url(#axclip)"/>
<path d="M185.15 274.56 L210.12 272.06 L210.12 272.06 L250.38 272.06 L250.38 272.06 L283.00 276.86 L283.00 276.87 L303.62 266.30 L303.62 266.30 L334.70 237.40 L334.70 237.40 L362.14 222.90 L362.14 222.91 L369.24 222.91 L369.24 222.90 L377.81 238.07 L377.81 238.08 L401.85 266.40 L401.85 266.40 L410.43 271.20 L410.43 271.19 L422.78 263.28 L422.78 263.29 L438.74 292.80 L438.74 292.81 L455.99 307.21 L455.99 307.19 L472.63 311.99 L472.63 312.00 L493.42 312.00 L493.42 312.00 L510.67 307.20 L510.67 307.20 L530.52 307.20 L530.52 307.18 L537.60 308.13" stroke="#666666" stroke-width="2.78" fill="none" stroke-linejoin="round" stroke-linecap="square" clip-path="url(#axclip)"/>
<clipPath id="axclip"><rect x="76.8" y="48.0" width="460.8" height="288.0"/></clipPath>
<path d="M77.5 48.5H538.5V336.5H77.5Z" stroke="#000" stroke-width="1.11" fill="none"/>
<path d="M77.5 336.5v4.86M109.5 336.5v2.78M128.5 336.5v2.78M142.5 336.5v2.78M153.5 336.5v2.78M161.5 336.5v2.78M168.5 336.5v2.78M175.5 336.5v2.78M180.5 336.5v2.78M185.5 336.5v4.86M218.5 336.5v2.78M237.5 336.5v2.78M250.5 336.5v2.78M261.5 336.5v2.78M269.5 336.5v2.78M277.5 336.5v2.78M283.5 336.5v2.78M289.5 336.5v2.78M294.5 336.5v4.86M326.5 336.5v2.78M345.5 336.5v2.78M359.5 336.5v2.78M369.5 336.5v2.78M378.5 336.5v2.78M385.5 336.5v2.78M391.5 336.5v2.78M397.5 336.5v2.78M402.5 336.5v4.86M434.5 336.5v2.78M454.5 336.5v2.78M467.5 336.5v2.78M478.5 336.5v2.78M486.5 336.5v2.78M493.5 336.5v2.78M500.5 336.5v2.78M505.5 336.5v2.78M510.5 336.5v4.86M77.5 67.5h-4.86M77.5 106.5h-4.86M77.5 144.5h-4.86M77.5 182.5h-4.86M77.5 221.5h-4.86M77.5 259.5h-4.86M77.5 298.5h-4.86M77.5 336.5h-4.86" stroke="#000" stroke-width="1.11" fill="none"/>
<rect x="39.30" y="67.48" width="8.70" height="1.22" fill="#000"/>
<text transform="translate(49.46 72.70) scale(1.000 1)" x="0.00 8.83" y="0" font-size="13.89" xml:space="preserve">60</text>
<rect x="39.30" y="105.88" width="8.70" height="1.22" fill="#000"/>
<text transform="translate(49.46 111.10) scale(1.000 1)" x="0.00 8.83" y="0" font-size="13.89" xml:space="preserve">80</text>
<rect x="30.55" y="144.28" width="8.70" height="1.22" fill="#000"/>
<text transform="translate(40.71 149.50) scale(1.000 1)" x="0.00 8.83 17.66" y="0" font-size="13.89" xml:space="preserve">100</text>
<rect x="30.55" y="182.68" width="8.70" height="1.22" fill="#000"/>
<text transform="translate(40.71 187.90) scale(1.000 1)" x="0.00 8.83 17.66" y="0" font-size="13.89" xml:space="preserve">120</text>
<rect x="30.55" y="221.08" width="8.70" height="1.22" fill="#000"/>
<text transform="translate(40.71 226.30) scale(1.000 1)" x="0.00 8.83 17.66" y="0" font-size="13.89" xml:space="preserve">140</text>
<rect x="30.42" y="259.48" width="8.70" height="1.22" fill="#000"/>
<text transform="translate(40.58 264.70) scale(1.000 1)" x="0.00 8.83 17.66" y="0" font-size="13.89" xml:space="preserve">160</text>
<rect x="30.42" y="297.88" width="8.70" height="1.22" fill="#000"/>
<text transform="translate(40.58 303.10) scale(1.000 1)" x="0.00 8.83 17.66" y="0" font-size="13.89" xml:space="preserve">180</text>
<rect x="30.67" y="336.28" width="8.70" height="1.22" fill="#000"/>
<text transform="translate(40.83 341.50) scale(1.000 1)" x="0.00 8.83 17.66" y="0" font-size="13.89" xml:space="preserve">200</text>
<text transform="translate(61.42 356.72) scale(1.000 1)" x="0.00 8.83 13.24 22.07" y="0" font-size="13.89" xml:space="preserve">0.01</text>
<text transform="translate(174.15 356.72) scale(1.000 1)" x="0.00 8.83 13.24" y="0" font-size="13.89" xml:space="preserve">0.1</text>
<text transform="translate(289.06 356.72) scale(1.000 1)" x="0.00" y="0" font-size="13.89" xml:space="preserve">1</text>
<text transform="translate(393.04 356.72) scale(1.000 1)" x="0.00 8.83" y="0" font-size="13.89" xml:space="preserve">10</text>
<text transform="translate(497.02 356.72) scale(1.000 1)" x="0.00 8.83 17.66" y="0" font-size="13.89" xml:space="preserve">100</text>
<text transform="translate(274.26 376.28) scale(1.000 1)" x="0.00 7.87 16.40 22.11 25.96 34.45 43.26 47.67 53.08 60.31" y="0" font-size="13.89" xml:space="preserve">Period [s]</text>
<g transform="translate(15.3 283.0) rotate(-90)">
<text y="0" font-size="13.89" x="0.00 9.49 23.01 31.81 35.67 39.52 44.97 53.76 62.57 75.51">Amplitude[</text>
<text y="0" font-size="13.89" x="142.91 152.74 158.15 166.96 176.48">][dB]</text>
<text y="0" font-size="13.89" x="80.93 106.33 125.2 135.63" font-style="italic">msHz</text>
<text y="0" font-size="13.89" x="101.66 120.77">//</text>
<text y="-5.36" font-size="9.72" x="95.09 114.21">24</text>
</g>
<text transform="translate(52.51 39.67) scale(1.000 1)" x="0.00 10.78 25.34 30.63 40.93 51.08 61.89 73.01 78.30 83.58 96.08 108.58 121.02 126.30 131.59 136.87 147.45 158.03 168.60 179.18 185.18 195.76 206.34 212.33 222.91 233.49 238.77 244.77 250.77 256.06 266.63 277.21 287.79 298.37 304.36 314.94 325.52 331.52 342.10 352.67 357.96 363.24 369.73 380.31 390.88 396.48 407.06 417.64 422.92 431.58 441.81 452.37 468.56 478.79 489.33 495.84 504.51" y="0" font-size="16.67" xml:space="preserve">BW.RTSA..HHN   2025-04-17 -- 2025-04-17  (48/48 segments)</text>
<g shape-rendering="crispEdges">
<rect x="566.4" y="321.60" width="14.40" height="14.70" fill="#440154"/>
<rect x="566.4" y="307.20" width="14.40" height="14.70" fill="#481467"/>
<rect x="566.4" y="292.80" width="14.40" height="14.70" fill="#482576"/>
<rect x="566.4" y="278.40" width="14.40" height="14.70" fill="#453781"/>
<rect x="566.4" y="264.00" width="14.40" height="14.70" fill="#404688"/>
<rect x="566.4" y="249.60" width="14.40" height="14.70" fill="#39558c"/>
<rect x="566.4" y="235.20" width="14.40" height="14.70" fill="#33638d"/>
<rect x="566.4" y="220.80" width="14.40" height="14.70" fill="#2d718e"/>
<rect x="566.4" y="206.40" width="14.40" height="14.70" fill="#287d8e"/>
<rect x="566.4" y="192.00" width="14.40" height="14.70" fill="#238a8d"/>
<rect x="566.4" y="177.60" width="14.40" height="14.70" fill="#1f968b"/>
<rect x="566.4" y="163.20" width="14.40" height="14.70" fill="#20a386"/>
<rect x="566.4" y="148.80" width="14.40" height="14.70" fill="#29af7f"/>
<rect x="566.4" y="134.40" width="14.40" height="14.70" fill="#3dbc74"/>
<rect x="566.4" y="120.00" width="14.40" height="14.70" fill="#56c667"/>
<rect x="566.4" y="105.60" width="14.40" height="14.70" fill="#75d054"/>
<rect x="566.4" y="91.20" width="14.40" height="14.70" fill="#95d840"/>
<rect x="566.4" y="76.80" width="14.40" height="14.70" fill="#bade28"/>
<rect x="566.4" y="62.40" width="14.40" height="14.70" fill="#dde318"/>
<rect x="566.4" y="48.00" width="14.40" height="14.70" fill="#fde725"/>
</g>
<path d="M566.5 48.5H581.5V336.5H566.5Z" stroke="#000" stroke-width="1.11" fill="none"/>
<text transform="translate(590.52 341.51) scale(1.000 1)" x="0.00" y="0" font-size="13.89" xml:space="preserve">0</text>
<text transform="translate(590.52 283.91) scale(1.000 1)" x="0.00 8.83" y="0" font-size="13.89" xml:space="preserve">20</text>
<text transform="translate(590.52 226.31) scale(1.000 1)" x="0.00 8.83" y="0" font-size="13.89" xml:space="preserve">40</text>
<text transform="translate(590.52 168.71) scale(1.000 1)" x="0.00 8.83" y="0" font-size="13.89" xml:space="preserve">60</text>
<text transform="translate(590.52 111.11) scale(1.000 1)" x="0.00 8.83" y="0" font-size="13.89" xml:space="preserve">80</text>
<text transform="translate(590.52 53.51) scale(1.000 1)" x="0.00 8.83 17.66" y="0" font-size="13.89" xml:space="preserve">100</text>
<path d="M581.5 336.5h4.86M581.5 278.5h4.86M581.5 221.5h4.86M581.5 163.5h4.86M581.5 106.5h4.86M581.5 48.5h4.86" stroke="#000" stroke-width="1.11" fill="none"/>
<g transform="translate(633.45 309.56) rotate(-90)">
<text transform="translate(0.00 0.00) scale(1.000 1)" x="0.00 8.79 17.28 26.08 31.08 39.37 47.33 54.96 63.50 72.03 80.84 89.34 98.14 105.76 114.30 118.71 124.12 131.75 140.55 154.06 162.86 166.71 175.21 180.65 184.51 192.72 201.26 206.67 211.08 216.49 229.68" y="0" font-size="13.89" xml:space="preserve">non-exceedance (cumulative) [%]</text>
</g>
<g shape-rendering="crispEdges">
<rect x="116" y="379.2" width="408" height="7.7" fill="#008000"/>
<rect x="116" y="386.9" width="408" height="11.5" fill="#0000ff"/>
</g>
<path d="M96.5 379.5H544.5V398.5H96.5Z" stroke="#000" stroke-width="1.11" fill="none"/>
<g transform="translate(61.41 448.59) rotate(-30)">
<text transform="translate(0.00 0.00) scale(1.000 1)" x="0.00 8.83 17.66 22.66 31.49 40.32 44.73 53.56" y="0" font-size="13.89" xml:space="preserve">04-17 00</text>
</g>
<g transform="translate(111.41 448.59) rotate(-30)">
<text transform="translate(0.00 0.00) scale(1.000 1)" x="0.00 8.83 17.66 22.66 31.49 40.32 44.73 53.56" y="0" font-size="13.89" xml:space="preserve">04-17 03</text>
</g>
<g transform="translate(161.41 448.59) rotate(-30)">
<text transform="translate(0.00 0.00) scale(1.000 1)" x="0.00 8.83 17.66 22.66 31.49 40.32 44.73 53.56" y="0" font-size="13.89" xml:space="preserve">04-17 06</text>
</g>
<g transform="translate(211.41 448.59) rotate(-30)">
<text transform="translate(0.00 0.00) scale(1.000 1)" x="0.00 8.83 17.66 22.66 31.49 40.32 44.73 53.56" y="0" font-size="13.89" xml:space="preserve">04-17 09</text>
</g>
<g transform="translate(261.41 448.59) rotate(-30)">
<text transform="translate(0.00 0.00) scale(1.000 1)" x="0.00 8.83 17.66 22.66 31.49 40.32 44.73 53.56" y="0" font-size="13.89" xml:space="preserve">04-17 12</text>
</g>
<g transform="translate(311.41 448.59) rotate(-30)">
<text transform="translate(0.00 0.00) scale(1.000 1)" x="0.00 8.83 17.66 22.66 31.49 40.32 44.73 53.56" y="0" font-size="13.89" xml:space="preserve">04-17 15</text>
</g>
<g transform="translate(361.41 448.59) rotate(-30)">
<text transform="translate(0.00 0.00) scale(1.000 1)" x="0.00 8.83 17.66 22.66 31.49 40.32 44.73 53.56" y="0" font-size="13.89" xml:space="preserve">04-17 18</text>
</g>
<g transform="translate(410.41 448.59) rotate(-30)">
<text transform="translate(0.00 0.00) scale(1.000 1)" x="0.00 8.83 17.66 22.66 31.49 40.32 44.73 53.56" y="0" font-size="13.89" xml:space="preserve">04-17 21</text>
</g>
<g transform="translate(460.41 448.59) rotate(-30)">
<text transform="translate(0.00 0.00) scale(1.000 1)" x="0.00 8.83 17.66 22.66 31.49 40.32 44.73 53.56" y="0" font-size="13.89" xml:space="preserve">04-18 00</text>
</g>
<path d="M116.5 398.5v4.86M166.5 398.5v4.86M216.5 398.5v4.86M266.5 398.5v4.86M316.5 398.5v4.86M366.5 398.5v4.86M416.5 398.5v4.86M465.5 398.5v4.86M515.5 398.5v4.86" stroke="#000" stroke-width="1.11" fill="none"/>
</svg></body></html>
